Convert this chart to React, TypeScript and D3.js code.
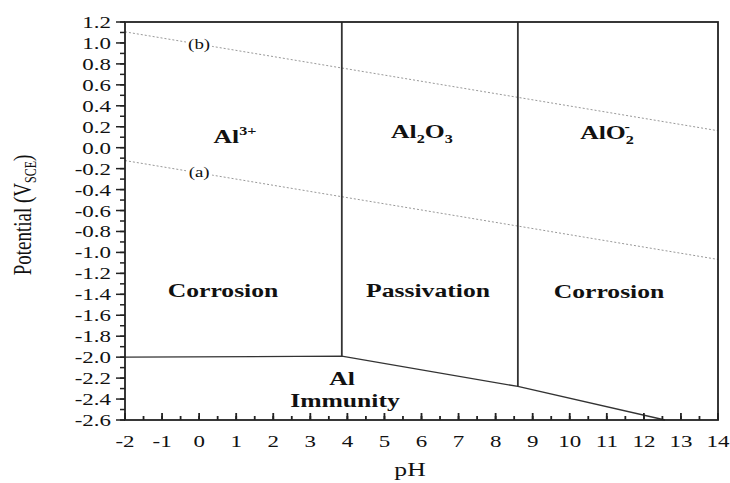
import React, { useEffect } from "react";
import * as d3 from "d3";

// axis ticks
const xTickValues = [-2, -1, 0, 1, 2, 3, 4, 5, 6, 7, 8, 9, 10, 11, 12, 13, 14];
const yTickValues = [1.2, 1.0, 0.8, 0.6, 0.4, 0.2, 0.0, -0.2, -0.4, -0.6, -0.8, -1.0, -1.2, -1.4, -1.6, -1.8, -2.0, -2.2, -2.4, -2.6];

// phase boundaries [pH, potential]
const boundaryAl3Al2O3 = [[3.85, 1.2], [3.85, -1.99]];
const boundaryAl2O3AlO2 = [[8.6, 1.2], [8.6, -2.28]];
const boundaryImmunity = [[-2, -2.0], [3.85, -1.99], [8.6, -2.28], [12.57, -2.6]];

// water stability lines (dotted)
const lineA = [[-2, -0.123], [14, -1.067]];
const lineB = [[-2, 1.106], [14, 0.162]];
const lineLabels = [
  { name: "(b)", ph: 0, e: 0.988 },
  { name: "(a)", ph: 0, e: -0.241 },
];

const W = 730;
const H = 483;
const SX = 1.35; // the original figure is stretched horizontally
const FONT = "'Liberation Serif', 'Times New Roman', serif";

function SText({ x, y, size, bold, anchor = "middle", children }: any) {
  return (
    <text
      transform={`translate(${x},${y}) scale(${SX},1)`}
      fontSize={size}
      fontWeight={bold ? "bold" : "normal"}
      textAnchor={anchor}
      fontFamily={FONT}
      fill="#111"
    >
      {children}
    </text>
  );
}

export default function App() {
  useEffect(() => {
    document.body.style.margin = "0";
  }, []);

  const left = 125, right = 718, top = 22, bottom = 420;
  const x = d3.scaleLinear().domain([-2, 14]).range([left, right]);
  const y = d3.scaleLinear().domain([-2.6, 1.2]).range([bottom, top]);

  const line = d3
    .line<number[]>()
    .x((d) => x(d[0]))
    .y((d) => y(d[1]));

  const fmtY = (v: number) => (v < 0 ? "-" : "") + Math.abs(v).toFixed(1);
  const fmtX = (v: number) => (v < 0 ? "-" : "") + Math.abs(v);

  const yMinor = d3.range(-26, 13).map((i) => i / 10);
  const xMinor = d3.range(-4, 29).map((i) => i / 2);

  return (
    <svg width={W} height={H} style={{ display: "block", background: "#fff" }}>
      {/* dotted water lines */}
      {[lineA, lineB].map((l, i) => (
        <path key={i} d={line(l) || ""} fill="none" stroke="#999" strokeWidth={1} strokeDasharray="2,2" />
      ))}
      {lineLabels.map((l) => (
        <g key={l.name}>
          <rect x={x(l.ph) - 13} y={y(l.e) - 7} width={26} height={14} fill="#fff" />
          <SText x={x(l.ph)} y={y(l.e) + 4.5} size={14}>{l.name}</SText>
        </g>
      ))}

      {/* phase boundaries */}
      <path d={line(boundaryAl3Al2O3) || ""} fill="none" stroke="#333" strokeWidth={1.8} />
      <path d={line(boundaryAl2O3AlO2) || ""} fill="none" stroke="#333" strokeWidth={1.8} />
      <path d={line(boundaryImmunity) || ""} fill="none" stroke="#333" strokeWidth={1.3} />

      {/* frame */}
      <rect x={left} y={top} width={right - left} height={bottom - top} fill="none" stroke="#222" strokeWidth={1.8} />

      {/* y axis ticks */}
      {yMinor.map((v, i) => (
        <line key={"ym" + i} x1={left} x2={left - 5} y1={y(v)} y2={y(v)} stroke="#222" strokeWidth={1.5} />
      ))}
      {yTickValues.map((v) => (
        <g key={"y" + v}>
          <line x1={left} x2={left - 9} y1={y(v)} y2={y(v)} stroke="#222" strokeWidth={1.5} />
          <SText x={left - 14} y={y(v) + 6} size={17} anchor="end">{fmtY(v)}</SText>
        </g>
      ))}

      {/* x axis ticks */}
      {xMinor.map((v, i) => (
        <line key={"xm" + i} x1={x(v)} x2={x(v)} y1={bottom} y2={bottom - 4} stroke="#222" strokeWidth={1.8} />
      ))}
      {xTickValues.map((v) => (
        <g key={"x" + v}>
          <line x1={x(v)} x2={x(v)} y1={bottom} y2={bottom - 7} stroke="#222" strokeWidth={1.8} />
          <SText x={x(v)} y={447} size={17}>{fmtX(v)}</SText>
        </g>
      ))}

      {/* axis titles */}
      <text
        transform={`translate(31,215) scale(${SX},1) rotate(-90)`}
        fontSize={19}
        textAnchor="middle"
        fontFamily={FONT}
        fill="#111"
      >
        Potential (V<tspan fontSize={12} dy={4}>SCE</tspan><tspan dy={-4}>)</tspan>
      </text>
      <SText x={410} y={476} size={19}>pH</SText>

      {/* species */}
      <SText x={235} y={143} size={19} bold>
        Al<tspan fontSize={12} dy={-8}>3+</tspan>
      </SText>
      <SText x={422} y={138} size={19} bold>
        Al<tspan fontSize={12} dy={5}>2</tspan><tspan dy={-5}>O</tspan><tspan fontSize={12} dy={5}>3</tspan>
      </SText>
      <SText x={607} y={139} size={19} bold>
        AlO<tspan fontSize={12} dy={5}>2</tspan><tspan fontSize={12} dx={-7} dy={-13}>-</tspan>
      </SText>

      {/* regions */}
      <SText x={223} y={297} size={19} bold>Corrosion</SText>
      <SText x={428} y={297} size={19} bold>Passivation</SText>
      <SText x={609} y={298} size={19} bold>Corrosion</SText>
      <SText x={342} y={385} size={19} bold>Al</SText>
      <SText x={345} y={407} size={19} bold>Immunity</SText>
    </svg>
  );
}
